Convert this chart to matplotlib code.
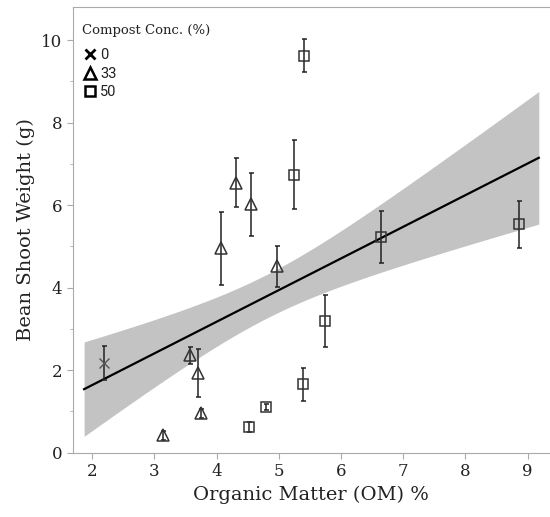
import numpy as np
import matplotlib.pyplot as plt
from matplotlib.lines import Line2D
from matplotlib.ticker import MultipleLocator

# compost 0 %
om_0 = [2.19]
wt_0 = [2.17]
err_0 = [0.42]

# compost 33 %
om_33 = [3.14, 3.57, 3.70, 3.75, 4.07, 4.31, 4.55, 4.97]
wt_33 = [0.42, 2.36, 1.93, 0.95, 4.95, 6.54, 6.02, 4.52]
err_33 = [0.11, 0.21, 0.59, 0.11, 0.88, 0.59, 0.77, 0.50]

# compost 50 %
om_50 = [4.52, 4.80, 5.24, 5.41, 5.39, 5.75, 6.64, 8.86]
wt_50 = [0.63, 1.11, 6.74, 9.62, 1.66, 3.18, 5.23, 5.53]
err_50 = [0.12, 0.07, 0.84, 0.40, 0.40, 0.63, 0.63, 0.57]

# fitted line and confidence band
fit_intercept = 0.105
fit_slope = 0.767
fit_range = (1.87, 9.18)
band_x0 = 4.8      # centre of the band (narrowest point)
band_a = 0.28      # squared half-width at centre
band_b = 0.12      # growth of squared half-width

legend_labels = ["0", "33", "50"]

plt.rcParams['font.family'] = ['DejaVu Serif']
fig = plt.figure(figsize=(5.5, 5.17), dpi=100)
ax = fig.add_axes([0.132, 0.1244, 0.868, 0.862])

xf = np.linspace(fit_range[0], fit_range[1], 200)
yf = fit_intercept + fit_slope * xf
hw = np.sqrt(band_a + band_b * (xf - band_x0) ** 2)
ax.fill_between(xf, yf - hw, yf + hw, color='#c3c3c3', lw=0, zorder=1)
ax.plot(xf, yf, color='black', lw=1.6, zorder=2)

ec = '#333333'
eb = dict(fmt='none', ecolor='#222222', elinewidth=1.1, capsize=1.8, capthick=1.1, zorder=3)
ax.errorbar(om_0, wt_0, yerr=err_0, **eb)
ax.errorbar(om_33, wt_33, yerr=err_33, **eb)
ax.errorbar(om_50, wt_50, yerr=err_50, **eb)
ax.plot(om_0, wt_0, 'x', ms=7, mew=1.0, color='#555555', zorder=4)
ax.plot(om_33, wt_33, '^', ms=8, mew=1.1, mfc='none', mec=ec, zorder=4)
ax.plot(om_50, wt_50, 's', ms=6.5, mew=1.1, mfc='none', mec=ec, zorder=4)

ax.set_xlim(1.685, 9.36)
ax.set_ylim(0, 10.8)
ax.xaxis.set_major_locator(MultipleLocator(1))
ax.yaxis.set_major_locator(MultipleLocator(2))
ax.yaxis.set_minor_locator(MultipleLocator(1))

for s in ['left', 'bottom', 'top']:
    ax.spines[s].set_color('#aaaaaa')
ax.spines['right'].set_visible(False)
ax.tick_params(which='major', length=4, color='#aaaaaa', labelsize=12, labelcolor='#222222')
ax.tick_params(which='minor', length=2.5, color='#aaaaaa')

ax.set_xlabel("Organic Matter (OM) %", fontsize=14, color='#222222')
ax.set_ylabel("Bean Shoot Weight (g)", fontsize=14, color='#222222')

# legend: title as separate text, entries below
ax.text(0.019, 0.948, "Compost Conc. (%)", transform=ax.transAxes, fontsize=9.5,
        color='#222222', ha='left', va='center')
handles = [
    Line2D([], [], ls='none', marker='x', ms=7, mew=2, color='black'),
    Line2D([], [], ls='none', marker='^', ms=8.5, mew=1.8, mfc='none', mec='black'),
    Line2D([], [], ls='none', marker='s', ms=7, mew=1.8, mfc='none', mec='black'),
]
leg = ax.legend(handles, legend_labels, loc='upper left',
                bbox_to_anchor=(0.024, 0.908), frameon=False,
                prop={'family': 'Roboto', 'size': 10.5},
                handlelength=0.8, handletextpad=0.3,
                labelspacing=0.32, borderaxespad=0, borderpad=0)
for t in leg.get_texts():
    t.set_color('#222222')

fig.savefig("out.png", dpi=100)
